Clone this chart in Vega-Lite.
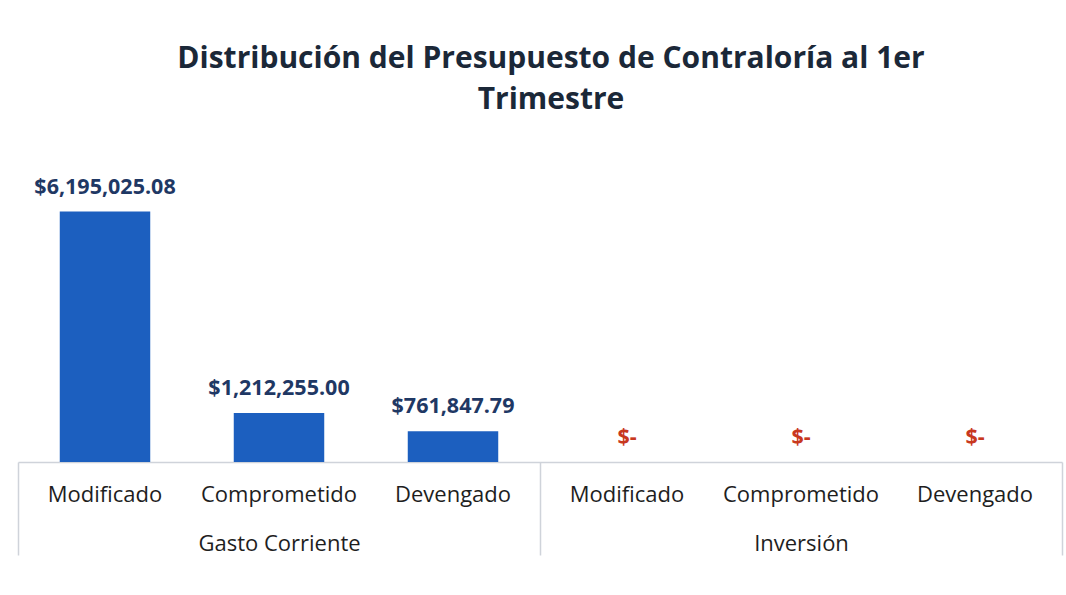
{
  "$schema": "https://vega.github.io/schema/vega-lite/v6.json",
  "width": 1044,
  "height": 283,
  "autosize": {"type": "none"},
  "padding": {"left": 18, "top": 179, "right": 4, "bottom": 133},
  "background": "#ffffff",
  "config": {"view": {"stroke": null}, "font": "Open Sans"},
  "title": {
    "text": ["Distribución del Presupuesto de Contraloría al 1er", "Trimestre"],
    "fontSize": 30,
    "fontWeight": "bold",
    "color": "#1b2838",
    "lineHeight": 41,
    "anchor": "middle",
    "dx": 11,
    "offset": 62
  },
  "data": {
    "values": [
      {"grupo": "Gasto Corriente", "cat": "Gasto Corriente|Modificado", "valor": 6195025.08, "etiqueta": "$6,195,025.08"},
      {"grupo": "Gasto Corriente", "cat": "Gasto Corriente|Comprometido", "valor": 1212255.00, "etiqueta": "$1,212,255.00"},
      {"grupo": "Gasto Corriente", "cat": "Gasto Corriente|Devengado", "valor": 761847.79, "etiqueta": "$761,847.79"},
      {"grupo": "Inversión", "cat": "Inversión|Modificado", "valor": 0, "etiqueta": "$-"},
      {"grupo": "Inversión", "cat": "Inversión|Comprometido", "valor": 0, "etiqueta": "$-"},
      {"grupo": "Inversión", "cat": "Inversión|Devengado", "valor": 0, "etiqueta": "$-"}
    ]
  },
  "layer": [
    {
      "encoding": {
        "x": {
          "field": "cat", "type": "nominal", "sort": null,
          "scale": {"paddingInner": 0.48, "paddingOuter": 0.24},
          "axis": {
            "title": null, "orient": "bottom", "ticks": false, "labelAngle": 0,
            "labelExpr": "split(datum.label, '|')[1]",
            "labelFontSize": 22, "labelColor": "#1e1e1e", "labelPadding": 22,
            "domainColor": "#cfd3da", "domainWidth": 1.5
          }
        },
        "y": {
          "field": "valor", "type": "quantitative",
          "scale": {"domain": [0, 7000000]},
          "axis": null
        }
      },
      "layer": [
        {"mark": {"type": "bar", "color": "#1c5fbf"}},
        {
          "mark": {"type": "text", "fontSize": 21.5, "fontWeight": "bold", "dy": -24},
          "encoding": {
            "text": {"field": "etiqueta"},
            "color": {
              "condition": {"test": "datum.valor == 0", "value": "#c8381e"},
              "value": "#1f3864"
            }
          }
        }
      ]
    },
    {
      "mark": {"type": "text", "text": ""},
      "encoding": {
        "x": {
          "field": "grupo", "type": "nominal", "sort": null,
          "scale": {"paddingInner": 0, "paddingOuter": 0},
          "axis": {
            "title": null, "orient": "bottom", "domain": false, "labelAngle": 0,
            "tickBand": "extent", "tickSize": 93, "tickColor": "#cfd3da", "tickWidth": 1.5,
            "labelFontSize": 22, "labelColor": "#1e1e1e", "labelPadding": -22
          }
        }
      }
    }
  ],
  "resolve": {"scale": {"x": "independent"}, "axis": {"x": "independent"}}
}
